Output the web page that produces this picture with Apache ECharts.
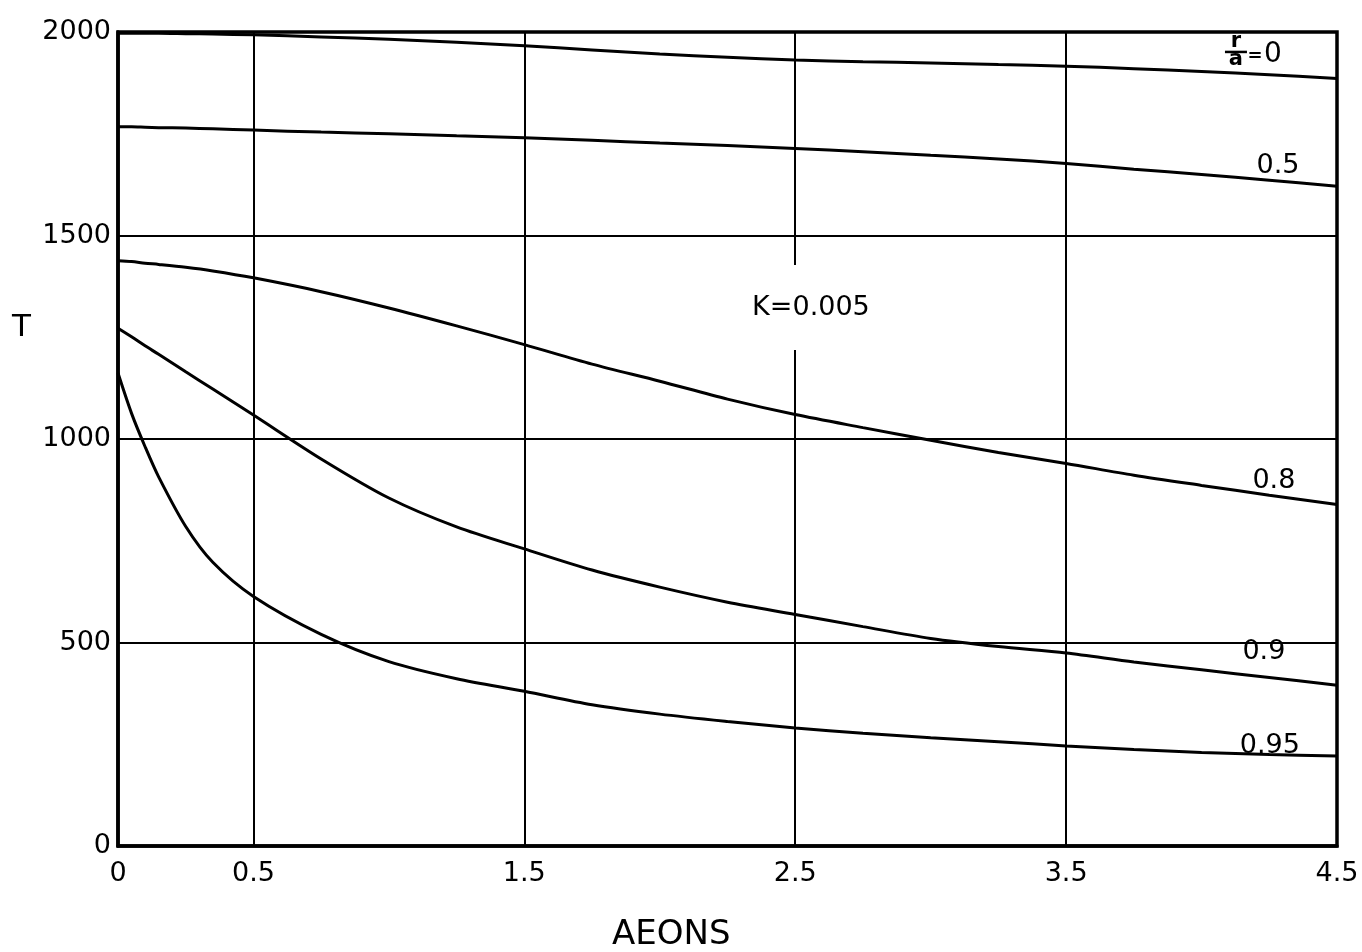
<!DOCTYPE html>
<html>
<head>
<meta charset="utf-8">
<style>
  html, body { margin: 0; background: #fff; }
  #chart { width: 1362px; height: 952px; }
</style>
<script src="https://cdn.jsdelivr.net/npm/echarts@6/dist/echarts.min.js"></script>
</head>
<body>
<div id="chart"></div>
<script>
// time in aeons (shared x values)
const aeons = [0, 0.05, 0.1, 0.15, 0.25, 0.35, 0.5, 0.75, 1, 1.25, 1.5, 1.75, 2, 2.25, 2.5, 2.75, 3, 3.25, 3.5, 3.75, 4, 4.25, 4.5];
// temperature T for each r/a
const t0   = [1997, 1997, 1997, 1997, 1996, 1995, 1993, 1988, 1982, 1975, 1966, 1956, 1946, 1938, 1931, 1927, 1924, 1920, 1916, 1910, 1903, 1895, 1886];
const t05  = [1767, 1767, 1766, 1765, 1764, 1762, 1759, 1754, 1750, 1745, 1740, 1734, 1727, 1721, 1714, 1706, 1697, 1688, 1677, 1663, 1650, 1636, 1621];
const t08  = [1438, 1436, 1432, 1429, 1422, 1413, 1396, 1362, 1322, 1278, 1232, 1184, 1142, 1098, 1060, 1028, 997, 967, 940, 911, 886, 862, 839];
const t09  = [1272, 1251, 1229, 1208, 1165, 1123, 1059, 951, 855, 784, 730, 678, 636, 599, 569, 539, 510, 490, 474, 452, 433, 414, 395];
const t095 = [1162, 1063, 981, 907, 785, 697, 613, 520, 453, 411, 380, 347, 324, 306, 290, 277, 266, 256, 246, 237, 230, 225, 221];

const xGrid = [0.5, 1.5, 2.5, 3.5];
const yTicks = [0, 500, 1000, 1500, 2000];

// curve labels: [aeons, T, text]
const curveLabels = [
  [4.282, 1671, '0.5'],
  [4.267, 898, '0.8'],
  [4.230, 476, '0.9'],
  [4.252, 245, '0.95']
];
const noteK = [2.558, 1323, 'K=0.005'];
const fracAt = [4.127, 1951];

const FONT = '"DejaVu Sans", sans-serif';

function pairs(ys) {
  return aeons.map((x, i) => [x, ys[i]]);
}

function curve(name, ys, extra) {
  return Object.assign({
    name: name,
    type: 'line',
    data: pairs(ys),
    symbol: 'none',
    smooth: 0.3,
    silent: true,
    lineStyle: { color: '#000', width: 3 }
  }, extra || {});
}

function txt(x, y, s, size, weight) {
  return {
    type: 'text', x: x, y: y,
    style: {
      text: s, fill: '#000', fontSize: size, fontFamily: FONT,
      fontWeight: weight || 'normal',
      align: 'center', verticalAlign: 'middle'
    }
  };
}

var chart = echarts.init(document.getElementById('chart'));

var option = {
  backgroundColor: '#fff',
  animation: false,
  grid: {
    left: 118, right: 25, top: 32, bottom: 106,
    show: true, borderColor: '#000', borderWidth: 3.5
  },
  xAxis: {
    type: 'value',
    min: 0, max: 4.5, interval: 0.5,
    axisLine: { show: true, lineStyle: { color: '#000', width: 3.5 } },
    axisTick: { show: false },
    splitLine: { show: false },
    axisLabel: {
      color: '#000', fontFamily: FONT, fontSize: 27, margin: 14,
      formatter: function (v) {
        return (v === 0 || Math.abs(v % 1 - 0.5) < 1e-9) ? String(v) : '';
      }
    }
  },
  yAxis: {
    type: 'value',
    min: 0, max: 2000, interval: 500,
    axisLine: { show: true, lineStyle: { color: '#000', width: 3.5 } },
    axisTick: { show: false },
    splitLine: { show: true, lineStyle: { color: '#000', width: 2 } },
    axisLabel: {
      color: '#000', fontFamily: FONT, fontSize: 27, margin: 7,
      padding: [0, 0, 16, 0],
      formatter: function (v) { return yTicks.indexOf(v) >= 0 ? String(v) : ''; }
    }
  },
  series: [
    curve('r/a=0', t0, {
      markLine: {
        silent: true, symbol: 'none', label: { show: false },
        lineStyle: { color: '#000', width: 2, type: 'solid' },
        data: xGrid.map(v => ({ xAxis: v }))
      }
    }),
    curve('0.5', t05),
    curve('0.8', t08),
    curve('0.9', t09),
    curve('0.95', t095),
    {
      type: 'scatter',
      symbolSize: 0,
      silent: true,
      z: 10,
      itemStyle: { opacity: 1 },
      data: curveLabels.concat([noteK]).map(d => ({
        value: d,
        label: d === noteK
          ? { backgroundColor: '#fff', padding: [29, 6] }
          : {}
      })),
      label: {
        show: true, position: 'inside', opacity: 1,
        color: '#000', fontFamily: FONT, fontSize: 27,
        formatter: p => p.value[2]
      }
    }
  ]
};

chart.setOption(option);

// axis names and the r/a = 0 fraction label (placed at a data position)
var p = chart.convertToPixel({ gridIndex: 0 }, fracAt);
chart.setOption({
  graphic: [
    {
      id: 'tName', type: 'text', left: 12, top: 312, z: 100,
      style: { text: 'T', fill: '#000', fontSize: 31, fontFamily: FONT }
    },
    {
      id: 'xName', type: 'text', left: 612, top: 918, z: 100,
      style: { text: 'AEONS', fill: '#000', fontSize: 34, fontFamily: FONT }
    },
    {
      id: 'frac', type: 'group', x: p[0], y: p[1], z: 100,
      children: [
        txt(0, -10, 'r', 21, 'bold'),
        { type: 'line', shape: { x1: -11, y1: 0, x2: 11, y2: 0 }, style: { stroke: '#000', lineWidth: 2.5 } },
        txt(0, 8, 'a', 21, 'bold'),
        txt(19, 4, '=', 18, 'bold'),
        txt(37, 3, '0', 28)
      ]
    }
  ]
});
</script>
</body>
</html>
